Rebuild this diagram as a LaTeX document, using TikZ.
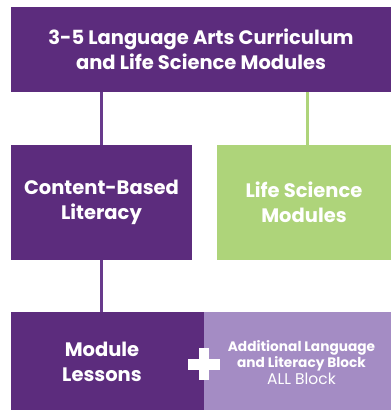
\documentclass[tikz,border=0pt]{standalone}
\usepackage{fontspec}
\setmainfont{Poppins}
\definecolor{dpurple}{RGB}{92,44,125}
\definecolor{lpurple}{RGB}{164,140,196}
\definecolor{lgreen}{RGB}{174,212,122}
\definecolor{linepurple}{RGB}{104,58,140}
\begin{document}
\begin{tikzpicture}[x=1pt,y=-1pt,
  box/.style={draw=none,inner sep=0pt,outer sep=0pt,text=white,align=center},
  bigtxt/.style={font=\fontsize{19.5}{25}\selectfont\bfseries},
  midtxt/.style={font=\fontsize{19.5}{25}\selectfont\bfseries},
  smalltxt/.style={font=\fontsize{13.7}{16.5}\selectfont},
  conn/.style={line width=3.5pt}]
\useasboundingbox (0,0) rectangle (391,410);
\fill[white] (0,0) rectangle (391,410);
% boxes
\node[box,fill=dpurple,minimum width=380pt,minimum height=85pt,bigtxt] (top) at (201,49.5)
  {3-5 Language Arts Curriculum\\and Life Science Modules};
\node[box,fill=dpurple,minimum width=181pt,minimum height=114.5pt,midtxt] (cbl) at (101.5,202.25)
  {Content-Based\\Literacy};
\node[box,fill=lgreen,minimum width=174pt,minimum height=114.5pt,midtxt] (lsm) at (304,202.25)
  {Life Science\\Modules};
\node[box,fill=dpurple,minimum width=193pt,minimum height=98pt] (mod) at (107.5,361) {};
\node[box,fill=lpurple,minimum width=187pt,minimum height=98pt] (all) at (297.5,361) {};
\node[box,midtxt] (modtext) at (102,362) {Module\\Lessons};
\node[box,smalltxt] (alltext) at (301.5,362.5)
  {\bfseries Additional Language\\\bfseries and Literacy Block\\{\fontsize{15.5}{16.5}\selectfont ALL Block}};
% plus sign
\coordinate (plus) at (204,364);
\fill[white] ([xshift=-16pt,yshift=-5.5pt]plus) rectangle ([xshift=16pt,yshift=5.5pt]plus);
\fill[white] ([xshift=-5pt,yshift=-16pt]plus) rectangle ([xshift=5pt,yshift=16pt]plus);
% connectors
\draw[conn,linepurple] (cbl.north) -- (cbl.north |- top.south);
\draw[conn,lgreen] ([xshift=3.5pt]lsm.north) -- ([xshift=3.5pt]lsm.north |- top.south);
\draw[conn,linepurple] (cbl.south) -- (cbl.south |- mod.north);
\end{tikzpicture}
\end{document}
